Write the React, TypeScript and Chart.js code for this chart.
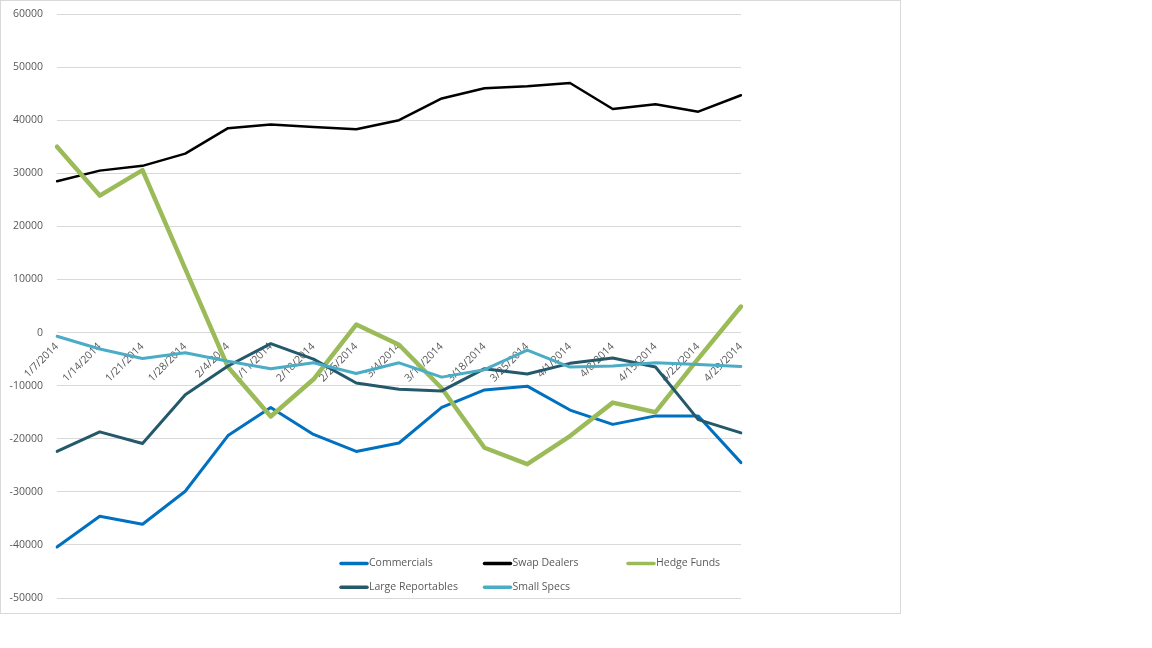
import { useEffect, useRef } from "react";
import { Chart, registerables } from "chart.js";

Chart.register(...registerables);

const weeks = [
  "1/7/2014", "1/14/2014", "1/21/2014", "1/28/2014", "2/4/2014", "2/11/2014",
  "2/18/2014", "2/25/2014", "3/4/2014", "3/11/2014", "3/18/2014", "3/25/2014",
  "4/1/2014", "4/8/2014", "4/15/2014", "4/22/2014", "4/29/2014",
];

const commercials = [-40400, -34600, -36100, -29900, -19400, -14100, -19200, -22400, -20800, -14100, -10800, -10100, -14600, -17300, -15700, -15700, -24500];
const swapDealers = [28500, 30500, 31400, 33700, 38500, 39200, 38700, 38300, 40000, 44100, 46000, 46400, 47000, 42100, 43000, 41600, 44700];
const hedgeFunds = [35000, 25800, 30600, 12000, -6500, -15800, -8800, 1500, -2300, -10500, -21700, -24800, -19500, -13200, -15000, -4900, 4900];
const largeReportables = [-22400, -18700, -20900, -11700, -6300, -2100, -5000, -9500, -10700, -11000, -6800, -7800, -5800, -4800, -6500, -16400, -18900];
const smallSpecs = [-700, -3100, -4900, -3800, -5400, -6800, -5700, -7700, -5700, -8400, -7000, -3300, -6500, -6300, -5700, -6000, -6400];

const FONT = "'Open Sans', sans-serif";
const TEXT = "#595959";

// legend sits inside the plot, like the Excel one
const insideLegend = {
  id: "insideLegend",
  afterDraw(chart: any) {
    const { ctx } = chart;
    ctx.save();
    chart.data.datasets.forEach((ds: any, i: number) => {
      const x = 339 + (i % 3) * 143.5;
      const y = 562.5 + Math.floor(i / 3) * 23.7;
      ctx.strokeStyle = ds.borderColor;
      ctx.lineWidth = 3.5;
      ctx.lineCap = "round";
      ctx.beginPath();
      ctx.moveTo(x + 1, y);
      ctx.lineTo(x + 27, y);
      ctx.stroke();
      ctx.fillStyle = TEXT;
      ctx.font = `10.5px ${FONT}`;
      ctx.textBaseline = "middle";
      ctx.fillText(ds.label, x + 29, y);
    });
    ctx.restore();
  },
};

export default function App() {
  const canvasRef = useRef<HTMLCanvasElement>(null);

  useEffect(() => {
    document.body.style.margin = "0";
    if (!canvasRef.current) return;
    const ctx = canvasRef.current.getContext("2d");
    if (!ctx) return;

    const line = (label: string, data: number[], color: string, width: number, order: number) => ({
      label,
      data,
      borderColor: color,
      backgroundColor: color,
      borderWidth: width,
      pointRadius: 0,
      tension: 0,
      borderCapStyle: "round" as const,
      borderJoinStyle: "round" as const,
      order,
    });

    const chart = new Chart(ctx, {
      type: "line",
      data: {
        labels: weeks,
        datasets: [
          line("Commercials", commercials, "#0070C0", 3, 4),
          line("Swap Dealers", swapDealers, "#000000", 2.5, 3),
          line("Hedge Funds", hedgeFunds, "#9BBB59", 4.5, 2),
          line("Large Reportables", largeReportables, "#23596A", 3, 1),
          line("Small Specs", smallSpecs, "#4BACC6", 3, 0),
        ],
      },
      options: {
        animation: false,
        responsive: true,
        maintainAspectRatio: false,
        events: [],
        layout: { padding: { top: 13, bottom: 15, left: 0, right: 159 } },
        plugins: {
          legend: { display: false },
          tooltip: { enabled: false },
        },
        scales: {
          x: {
            type: "category",
            position: { y: 0 },
            offset: false,
            grid: { display: false, drawTicks: false },
            border: { display: false },
            ticks: {
              autoSkip: false,
              maxRotation: 45,
              minRotation: 45,
              padding: 8,
              color: TEXT,
              font: { family: FONT, size: 10.5 },
            },
          },
          y: {
            min: -50000,
            max: 60000,
            afterFit: (scale: any) => {
              scale.width = 56;
              scale.paddingTop = 0;
              scale.paddingBottom = 0;
            },
            grid: { color: "#d9d9d9", lineWidth: 1, drawTicks: false },
            border: { display: false },
            ticks: {
              stepSize: 10000,
              padding: 14,
              color: TEXT,
              font: { family: FONT, size: 10.5 },
              callback: (v: any) => String(v),
            },
          },
        },
      },
      plugins: [insideLegend],
    });

    return () => {
      chart.destroy();
    };
  }, []);

  return (
    <div
      style={{
        position: "absolute",
        left: 0,
        top: 0,
        width: 901,
        height: 614,
        boxSizing: "border-box",
        border: "1px solid #d9d9d9",
        background: "#fff",
      }}
    >
      <div style={{ position: "relative", width: 899, height: 612 }}>
        <canvas ref={canvasRef} />
      </div>
    </div>
  );
}
